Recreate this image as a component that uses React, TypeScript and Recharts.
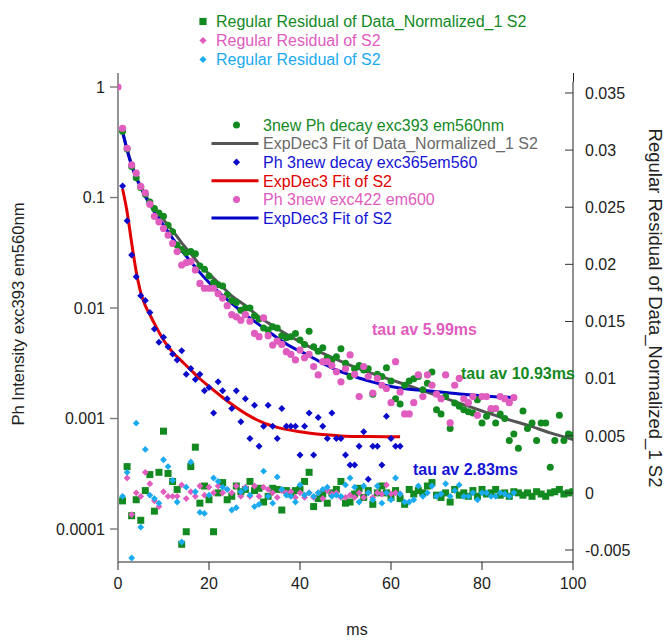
import React from 'react';
import { ComposedChart, Scatter, Line, XAxis, YAxis } from 'recharts';

const FONT = '"Liberation Sans", Arial, Helvetica, sans-serif';

// ---- x ticks / y ticks ----
const xTicks = [0, 20, 40, 60, 80, 100];
const leftTicks = [0.0001, 0.001, 0.01, 0.1, 1];
const rightTicks = [-0.005, 0, 0.005, 0.01, 0.015, 0.02, 0.025, 0.03, 0.035];

// ---- 3new Ph decay exc393 em560nm (green circles), t = 1..100 ms ----
const greenY = [
  0.398, 0.275, 0.191, 0.151, 0.123, 0.107, 0.0912, 0.0794, 0.0724, 0.0676,
  0.0562, 0.049, 0.0372, 0.0339, 0.0316, 0.0324, 0.0309, 0.024, 0.0224, 0.0195,
  0.017, 0.0162, 0.0158, 0.0132, 0.0117, 0.0112, 0.00955, 0.01, 0.01, 0.00851,
  0.00794, 0.00661, 0.00631, 0.00676, 0.00661, 0.00562, 0.00537, 0.0055, 0.00589, 0.00513,
  0.00468, 0.00617, 0.00447, 0.00407, 0.00437, 0.00355, 0.00339, 0.00363, 0.00427, 0.00316,
  0.0024, 0.00282, 0.00302, 0.00275, 0.00282, 0.00166, 0.00251, 0.0024, 0.00288, 0.00219,
  0.00151, 0.00135, 0.002, 0.00219, 0.00229, 0.0024, 0.00182, 0.00209, 0.00263, 0.0012,
  0.0011, 0.00158, 0.000813, 0.00138, 0.00129, 0.0012, 0.00115, 0.00112, 0.00148, 0.000912,
  0.00105, 0.0012, 0.000912, 0.0011, 0.001, 0.000631, 0.000724, 0.000537, 0.00117, 0.000813,
  0.000912, 0.000631, 0.000912, 0.000912, 0.000363, 0.000631, 0.00107, 0.000631, 0.000724, 0.000708,
];

// ---- ExpDec3 Fit of Data_Normalized_1 S2 (gray line) ----
const grayFitX = [1, 2, 3, 4, 5, 6, 7, 8, 10, 12, 14, 16, 18, 20, 22, 25, 28, 31, 34, 38, 42, 46, 50, 55, 60, 65, 70, 75, 80, 85, 90, 95, 100];
const grayFitY = [
  0.389, 0.275, 0.2, 0.155, 0.126, 0.105, 0.0912, 0.0794, 0.0631, 0.0501, 0.0389, 0.0309, 0.0245, 0.0204, 0.017, 0.0129, 0.0105,
  0.00832, 0.00692, 0.0055, 0.00447, 0.00372, 0.00316, 0.00263, 0.00224, 0.00191, 0.00162, 0.00138, 0.00117, 0.001, 0.000871, 0.000741, 0.000646,
];

// ---- Ph 3new decay exc365em560 (blue diamonds), t = 1..62 ms ----
const blueDiaY = [
  0.127, 0.0617, 0.0302, 0.0192, 0.0129, 0.0117, 0.00912, 0.00646, 0.0049, 0.00543,
  0.00447, 0.00384, 0.00339, 0.00411, 0.00251, 0.00284, 0.00226, 0.00251, 0.00178, 0.00191,
  0.00112, 0.00215, 0.00178, 0.00151, 0.00123, 0.00178, 0.000933, 0.00151, 0.000661, 0.00132,
  0.000562, 0.000851, 0.00132, 0.000851, 0.000661, 0.00123, 0.000851, 0.000851, 0.000851, 0.000468,
  0.000851, 0.00112, 0.000468, 0.00102, 0.000851, 0.000661, 0.00112, 0.000661, 0.000661, 0.000468,
  0.00038, 0.00038, 0.000562, 0.000759, 0.000282, 0.000562, 0.000562, 0.00038, 0.00105, 0.000661,
  0.000562, 0.000562,
];

// ---- ExpDec3 Fit of S2 (red line) ----
const redFitX = [1, 2, 3, 4, 5, 6, 7, 8, 10, 12, 14, 16, 18, 20, 23, 26, 29, 32, 35, 40, 45, 50, 55, 62];
const redFitY = [
  0.12, 0.0741, 0.0389, 0.0214, 0.0138, 0.0105, 0.00871, 0.00724, 0.00513, 0.00398, 0.00331, 0.00275,
  0.00229, 0.00195, 0.00155, 0.00126, 0.00105, 0.000912, 0.000832, 0.000759, 0.000716, 0.000692, 0.000687, 0.000684,
];

// ---- Ph 3new exc422 em600 (pink circles), t = 0..87 ms ----
const pinkY = [
  1, 0.423, 0.279, 0.197, 0.166, 0.126, 0.11, 0.0871, 0.0676, 0.0603,
  0.0525, 0.0457, 0.0385, 0.0324, 0.0245, 0.0257, 0.0263, 0.0221, 0.0167, 0.0151,
  0.0151, 0.0151, 0.0135, 0.0123, 0.0105, 0.00871, 0.00832, 0.00776, 0.00871, 0.00759,
  0.00589, 0.0055, 0.00813, 0.00562, 0.00462, 0.00501, 0.00468, 0.00403, 0.0038, 0.00339,
  0.00417, 0.00355, 0.0038, 0.00295, 0.00248, 0.00327, 0.00327, 0.00302, 0.00265, 0.00215,
  0.00282, 0.00376, 0.00251, 0.00158, 0.00295, 0.0024, 0.0017, 0.00231, 0.002, 0.00187,
  0.00139, 0.00327, 0.00174, 0.0011, 0.0011, 0.00139, 0.00248, 0.00158, 0.00248, 0.002,
  0.00166, 0.00151, 0.00248, 0.000912, 0.002, 0.00231, 0.00151, 0.00139, 0.00158, 0.00107,
  0.00158, 0.00158, 0.00123, 0.00123, 0.00158, 0.00151, 0.00139, 0.00155,
];

// ---- ExpDec3 Fit of S2 (blue line) ----
const blueFitX = [1, 2, 3, 4, 5, 6, 7, 8, 10, 12, 14, 16, 18, 20, 22, 25, 28, 31, 34, 38, 41, 45, 48, 52, 55, 60, 64, 68, 72, 77, 82, 87];
const blueFitY = [
  0.398, 0.269, 0.195, 0.151, 0.123, 0.102, 0.0871, 0.0741, 0.0562, 0.0427, 0.0331, 0.0263, 0.0209, 0.017, 0.0141, 0.011,
  0.00871, 0.00708, 0.00575, 0.00447, 0.00389, 0.00316, 0.00275, 0.0024, 0.00219, 0.00195, 0.00184, 0.00178, 0.00172, 0.00164, 0.00158, 0.00155,
];

// ---- Regular Residual of Data_Normalized_1 S2 (green squares), t = 1..100 ----
const resGreen = [
  -0.0007, 0.0023, -0.002, -0.0006, -0.0024, 0.0002, 0.0016, -0.0016, 0.0018, 0.0054,
  0.0017, 0.001, 0.0003, -0.0045, -0.0034, 0.0023, 0.004, -0.0009, 0.0006, -0.0006,
  -0.0034, 0.0, 0.0009, -0.0006, -0.0003, 0.0006, 0.0001, 0.0003, 0.001, 0.0002,
  0.0004, -0.0008, -0.0003, 0.0004, 0.0003, -0.0015, 0.0002, -0.0001, 0.0002, 0.0003,
  0.001, 0.0018, -0.0012, -0.0005, -0.0001, -0.0009, 0.0, 0.0003, 0.001, -0.0009,
  -0.0008, -0.0001, 0.0004, -0.0004, 0.0002, -0.001, 0.0, 0.0006, 0.0, -0.0004,
  0.0002, -0.0005, -0.001, 0.0003, -0.0001, 0.0002, 0.0, 0.0006, 0.0009, -0.0002,
  -0.0004, 0.0, -0.0008, 0.0003, -0.0002, 0.0, -0.0003, 0.0002, -0.0003, 0.0003,
  -0.0001, 0.0, 0.0003, -0.0002, 0.0, -0.0003, 0.0001, 0.0, -0.0002, 0.0,
  -0.0003, 0.0001, -0.0001, -0.0003, 0.0, 0.0001, 0.0003, -0.0001, 0.0, 0.0001,
];

// ---- Regular Residual of S2 (pink diamonds), t = 2..62 ----
const resPink = [
  0.0013, -0.0019, 0.0, -0.0003, 0.0018, 0.0008, -0.0007, -0.0012, 0.0001, -0.0003,
  -0.0003, -0.0003, 0.0007, -0.0005, 0.0001, -0.0003, 0.0006, -0.0002, 0.0005, 0.0,
  0.0006, 0.0, 0.0003, 0.0, 0.0006, -0.0003, 0.0005, -0.0003, 0.0006, -0.0003,
  0.0005, 0.0003, 0.0, -0.0004, 0.0002, 0.0, 0.0001, -0.0004, 0.0, -0.0004,
  0.0, -0.0004, 0.0, -0.0005, 0.0002, -0.0001, 0.0, -0.0004, -0.0004, -0.0002,
  -0.0004, 0.0, -0.0004, 0.0, -0.0004, 0.0, -0.0001, 0.0007, -0.0001, 0.0,
  -0.0001,
];

// ---- Regular Residual of S2 (cyan diamonds), t = 1..87 ----
const resCyan = [
  -0.0003, 0.0018, -0.0057, 0.0061, -0.003, 0.0038, -0.0002, -0.0005, -0.0009, 0.0029,
  0.0023, 0.0011, -0.0008, -0.0043, 0.0005, 0.0027, 0.0001, -0.0017, -0.0018, -0.0002,
  0.0013, 0.001, 0.0005, 0.0003, -0.0015, -0.0013, 0.0001, 0.0004, -0.0002, -0.0012,
  -0.001, 0.0019, -0.0003, -0.0009, 0.0014, 0.0003, -0.0002, -0.0003, -0.0008, 0.0007,
  -0.0002, 0.0, -0.0003, 0.0, 0.0003, 0.0005, -0.0003, -0.0002, -0.0003, 0.0007,
  0.0013, 0.0005, -0.0008, 0.0006, 0.0, -0.0006, 0.0006, -0.0009, 0.0, -0.0006,
  0.0013, -0.0001, -0.0008, -0.0008, -0.0006, 0.0006, -0.0003, 0.0, 0.0006, -0.0003,
  -0.0001, 0.0008, -0.0003, 0.0002, 0.0007, -0.0003, -0.0003, 0.0, -0.0006, 0.0,
  0.0, -0.0003, -0.0003, 0.0, -0.0001, -0.0003, 0.0,
];

// ---- legend / annotation texts ----
const topLegend = [
  { label: 'Regular Residual of Data_Normalized_1 S2', color: '#138a1f', marker: 'square' },
  { label: 'Regular Residual of S2', color: '#e05cbe', marker: 'diamond' },
  { label: 'Regular Residual of S2', color: '#1aaaf0', marker: 'diamond' },
];
const innerLegend = [
  { label: '3new Ph decay exc393 em560nm', color: '#138a1f', text: '#138a1f', marker: 'circle' },
  { label: 'ExpDec3 Fit of Data_Normalized_1 S2', color: '#555555', text: '#6a6a6a', marker: 'line' },
  { label: 'Ph 3new decay exc365em560', color: '#0a0acc', text: '#1414d4', marker: 'diamond' },
  { label: 'ExpDec3 Fit of S2', color: '#e00000', text: '#e00000', marker: 'line' },
  { label: 'Ph 3new exc422 em600', color: '#e05cbe', text: '#e05cbe', marker: 'circle' },
  { label: 'ExpDec3 Fit of S2', color: '#0000c8', text: '#1414d4', marker: 'line' },
];
const tauLabels = [
  { text: 'tau av 5.99ms', color: '#e05cbe', x: 372, y: 329 },
  { text: 'tau av 10.93ms', color: '#138a1f', x: 461, y: 373 },
  { text: 'tau av 2.83ms', color: '#1414d4', x: 413, y: 469 },
];
const xTitle = 'ms';
const leftTitle = 'Ph Intensity exc393 em560nm';
const rightTitle = 'Regular Residual of Data_Normalized_1 S2';

// ---- build records ----
const seq = (ys: number[], start: number) => ys.map((y, i) => ({ x: i + start, y }));
const pairs = (xs: number[], ys: number[]) => xs.map((x, i) => ({ x, y: ys[i] }));

const greenData = seq(greenY, 1);
const blueDiaData = seq(blueDiaY, 1);
const pinkData = seq(pinkY, 0);
const grayFit = pairs(grayFitX, grayFitY);
const redFit = pairs(redFitX, redFitY);
const blueFit = pairs(blueFitX, blueFitY);
const resGreenData = seq(resGreen, 1);
const resPinkData = seq(resPink, 2);
const resCyanData = seq(resCyan, 1);

const circleShape = (color: string, r: number) => (p: any) =>
  p.cx == null ? <g /> : <circle cx={p.cx} cy={p.cy} r={r} fill={color} />;
const diamondShape = (color: string, h: number) => (p: any) =>
  p.cx == null ? <g /> : (
    <polygon
      points={`${p.cx},${p.cy - h} ${p.cx + h},${p.cy} ${p.cx},${p.cy + h} ${p.cx - h},${p.cy}`}
      fill={color}
    />
  );
const squareShape = (color: string, s: number) => (p: any) =>
  p.cx == null ? <g /> : <rect x={p.cx - s / 2} y={p.cy - s / 2} width={s} height={s} fill={color} />;

const fmtRight = (v: number) => (v === 0 ? '0' : String(+v.toFixed(3)));

const RightTick = (props: any) => {
  const { x, y, payload } = props;
  return (
    <g>
      <line x1={x - 20} x2={x - 12} y1={y} y2={y} stroke="#333" strokeWidth={1} />
      <text x={x} y={y} dy="0.36em" textAnchor="start" fontSize={16} fill="#222" fontFamily={FONT}>
        {fmtRight(payload.value)}
      </text>
    </g>
  );
};

const Marker = ({ kind, color, x, y }: any) => {
  if (kind === 'square') return <rect x={x - 3.6} y={y - 3.6} width={7.2} height={7.2} fill={color} />;
  if (kind === 'diamond')
    return <polygon points={`${x},${y - 3.6} ${x + 3.6},${y} ${x},${y + 3.6} ${x - 3.6},${y}`} fill={color} />;
  if (kind === 'circle') return <circle cx={x} cy={y} r={3.5} fill={color} />;
  return <line x1={x - 25} x2={x + 22} y1={y} y2={y} stroke={color} strokeWidth={3} />;
};

export default function App() {
  return (
    <div style={{ position: 'absolute', left: 0, top: 0, width: 668, height: 641, background: '#fff', fontFamily: FONT }}>
      <ComposedChart width={668} height={641} margin={{ top: 82, right: 0, bottom: 0, left: 0 }}>
        <XAxis
          dataKey="x"
          type="number"
          domain={[0, 100]}
          ticks={xTicks}
          allowDataOverflow
          height={79}
          tickSize={8}
          tickMargin={8}
          stroke="#222"
          tick={{ fontSize: 16, fill: '#222', fontFamily: FONT }}
        />
        <XAxis
          xAxisId="top"
          orientation="top"
          type="number"
          domain={[0, 100]}
          height={0}
          tick={false}
          tickLine={false}
          stroke="#222"
        />
        <YAxis
          yAxisId="left"
          dataKey="y"
          scale="log"
          type="number"
          domain={[5.03e-5, 1.11]}
          allowDataOverflow
          ticks={leftTicks}
          tickFormatter={(v: number) => String(v)}
          width={118}
          tickSize={8}
          tickMargin={5}
          axisLine={{ stroke: '#7a7a7a', strokeWidth: 1.6 }}
          tickLine={{ stroke: '#7a7a7a', strokeWidth: 1.4 }}
          tick={{ fontSize: 16, fill: '#222', fontFamily: FONT }}
        />
        <YAxis
          yAxisId="right"
          orientation="right"
          dataKey="y"
          type="number"
          domain={[-0.00605, 0.03596]}
          allowDataOverflow
          ticks={rightTicks}
          width={95}
          tickSize={0}
          tickMargin={12}
          tickLine={false}
          axisLine={{ stroke: '#222', strokeWidth: 1 }}
          tick={<RightTick />}
        />

        <Scatter yAxisId="right" data={resGreenData} dataKey="y" shape={squareShape('#138a1f', 7)} isAnimationActive={false} />
        <Scatter yAxisId="right" data={resPinkData} dataKey="y" shape={diamondShape('#e05cbe', 3.4)} isAnimationActive={false} />
        <Scatter yAxisId="right" data={resCyanData} dataKey="y" shape={diamondShape('#1aaaf0', 3.4)} isAnimationActive={false} />

        <Scatter yAxisId="left" data={greenData} dataKey="y" shape={circleShape('#138a1f', 3.5)} isAnimationActive={false} />
        <Line yAxisId="left" data={grayFit} dataKey="y" type="monotone" stroke="#555555" strokeWidth={3} dot={false} activeDot={false} isAnimationActive={false} />
        <Scatter yAxisId="left" data={blueDiaData} dataKey="y" shape={diamondShape('#0a0acc', 3.5)} isAnimationActive={false} />
        <Line yAxisId="left" data={redFit} dataKey="y" type="monotone" stroke="#e00000" strokeWidth={3} dot={false} activeDot={false} isAnimationActive={false} />
        <Scatter yAxisId="left" data={pinkData} dataKey="y" shape={circleShape('#e05cbe', 3.6)} isAnimationActive={false} />
        <Line yAxisId="left" data={blueFit} dataKey="y" type="monotone" stroke="#0000c8" strokeWidth={3} dot={false} activeDot={false} isAnimationActive={false} />
      </ComposedChart>

      <svg width={668} height={641} style={{ position: 'absolute', left: 0, top: 0, pointerEvents: 'none' }} fontFamily={FONT}>
        {/* small axis-line overhangs above the plot frame, as in the original */}
        <line x1={118} x2={118} y1={73} y2={82} stroke="#7a7a7a" strokeWidth={1.6} />
        <line x1={573.5} x2={573.5} y1={73} y2={82} stroke="#222" strokeWidth={1} />
        {topLegend.map((it, i) => (
          <g key={'t' + i}>
            <Marker kind={it.marker} color={it.color} x={203} y={21.5 + i * 19} />
            <text x={216} y={21.5 + i * 19} dy="0.36em" fontSize={16} fill={it.color}>{it.label}</text>
          </g>
        ))}
        {innerLegend.map((it, i) => (
          <g key={'l' + i}>
            <Marker kind={it.marker} color={it.color} x={236.5} y={125 + i * 18.6} />
            <text x={263} y={125 + i * 18.6} dy="0.36em" fontSize={16} fill={it.text}>{it.label}</text>
          </g>
        ))}
        {tauLabels.map((t, i) => (
          <text key={'tau' + i} x={t.x} y={t.y} dy="0.36em" fontSize={16} fontWeight="bold" fill={t.color}>{t.text}</text>
        ))}
        <text x={357} y={629} dy="0.36em" textAnchor="middle" fontSize={16} fill="#222">{xTitle}</text>
        <text x={0} y={0} transform="translate(18,314) rotate(-90)" dy="0.36em" textAnchor="middle" fontSize={16.6} fill="#222">{leftTitle}</text>
        <text x={0} y={0} transform="translate(656,308) rotate(90)" dy="0.36em" textAnchor="middle" fontSize={18.5} fill="#222">{rightTitle}</text>
      </svg>
    </div>
  );
}
